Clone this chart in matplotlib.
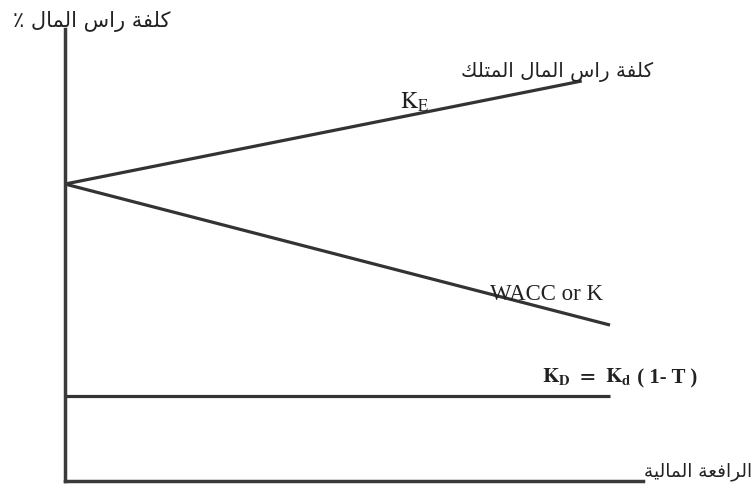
import matplotlib
matplotlib.use("Agg")
import matplotlib.pyplot as plt

# نسبة الرافعة المالية (0-100) وكلفة راس المال (0-100)
ke_x = [0, 89.4]
ke_y = [65.7, 88.5]
wacc_x = [0, 94.3]
wacc_y = [65.7, 34.5]
kd_x = [0, 94.3]
kd_y = [18.8, 18.8]

y_title = "كلفة راس المال ٪"
ke_title = "كلفة راس المال المتلك"
x_title = "الرافعة المالية"

# matplotlib لا يشكّل الحروف العربية، لذا نحوّلها يدويا إلى الأشكال المتصلة
# (منفرد، نهائي، ابتدائي، وسطي)
FORMS = {
    'ا': ('\uFE8D', '\uFE8E', None, None),
    'ة': ('\uFE93', '\uFE94', None, None),
    'ت': ('\uFE95', '\uFE96', '\uFE97', '\uFE98'),
    'ر': ('\uFEAD', '\uFEAE', None, None),
    'س': ('\uFEB1', '\uFEB2', '\uFEB3', '\uFEB4'),
    'ع': ('\uFEC9', '\uFECA', '\uFECB', '\uFECC'),
    'ف': ('\uFED1', '\uFED2', '\uFED3', '\uFED4'),
    'ك': ('\uFED9', '\uFEDA', '\uFEDB', '\uFEDC'),
    'ل': ('\uFEDD', '\uFEDE', '\uFEDF', '\uFEE0'),
    'م': ('\uFEE1', '\uFEE2', '\uFEE3', '\uFEE4'),
    'ي': ('\uFEF1', '\uFEF2', '\uFEF3', '\uFEF4'),
}


def shape(text):
    out = []
    for i, ch in enumerate(text):
        if ch not in FORMS:
            out.append(ch)
            continue
        prev = text[i - 1] if i > 0 else ''
        nxt = text[i + 1] if i + 1 < len(text) else ''
        iso, fin, ini, med = FORMS[ch]
        from_prev = prev in FORMS and FORMS[prev][2] is not None
        to_next = nxt in FORMS and ini is not None
        if from_prev and to_next:
            out.append(med)
        elif from_prev:
            out.append(fin)
        elif to_next:
            out.append(ini)
        else:
            out.append(iso)
    # ترتيب بصري من اليمين لليسار
    return ''.join(reversed(out))


plt.rcParams['mathtext.fontset'] = 'stix'
W, H = 755, 489
fig = plt.figure(figsize=(7.55, 4.89), dpi=100)
ax = fig.add_axes([65 / W, 1 - 482 / H, (643 - 65) / W, (482 - 30) / H])

line_col = '#333333'
ax.plot(ke_x, ke_y, color=line_col, lw=2.3, solid_capstyle='butt')
ax.plot(wacc_x, wacc_y, color=line_col, lw=2.3, solid_capstyle='butt')
ax.plot(kd_x, kd_y, color=line_col, lw=2.3, solid_capstyle='butt')

ax.set_xlim(0, 100)
ax.set_ylim(0, 100)
for s in ['top', 'right']:
    ax.spines[s].set_visible(False)
for s in ['left', 'bottom']:
    ax.spines[s].set_color('#3a3a3a')
    ax.spines[s].set_linewidth(2.5)
ax.set_xticks([])
ax.set_yticks([])

txt_col = '#222222'
ax.text(58, 84, r'$\mathrm{K_E}$', fontsize=17, color=txt_col,
        ha='left', va='center')
ax.text(73.5, 41.5, 'WACC or K', family='Liberation Serif', fontsize=16.5,
        color=txt_col, ha='left', va='center')
kd_lab = ax.text(82.5, 23.3, r'$\mathbf{K_D\;\,=\;\,K_d}$', fontsize=15,
                 color=txt_col, ha='left', va='center')
ax.annotate(' ( 1- T )', xy=(1, 0.42), xycoords=kd_lab, ha='left',
            va='center', family='Liberation Serif', weight='bold',
            fontsize=15, color=txt_col)

fig.text(13 / W, 1 - 21 / H, shape(y_title), family=['DejaVu Sans'],
         fontsize=15, color=txt_col, ha='left', va='center')
fig.text(653 / W, 1 - 72 / H, shape(ke_title), family=['DejaVu Sans'],
         fontsize=14.3, color=txt_col, ha='right', va='center')
fig.text(644 / W, 1 - 472 / H, shape(x_title), family=['DejaVu Sans'],
         fontsize=13.3, color=txt_col, ha='left', va='center')

fig.savefig('out.png', dpi=100)
